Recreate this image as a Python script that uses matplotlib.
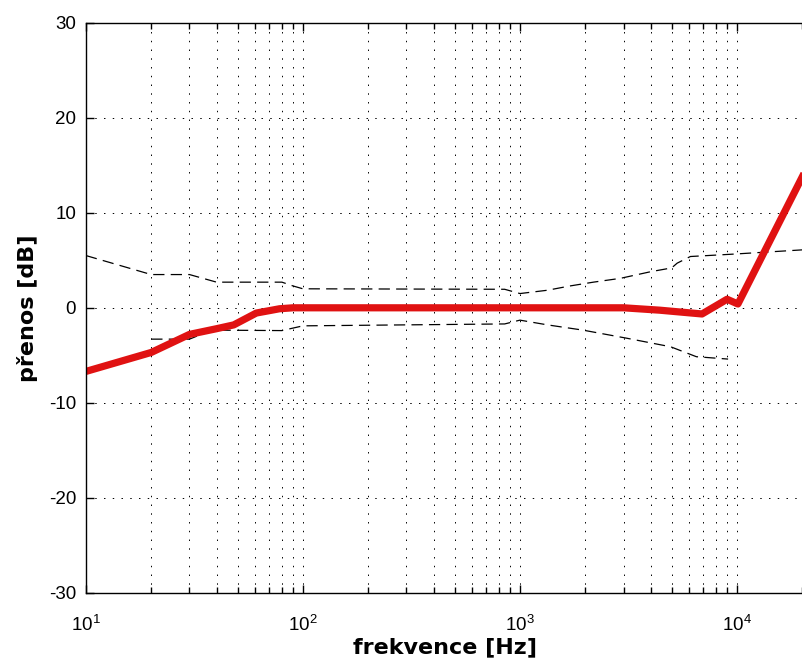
import matplotlib
matplotlib.use("Agg")
import matplotlib.pyplot as plt
from matplotlib.ticker import FixedLocator, LogLocator, NullFormatter

plt.rcParams['font.family'] = ['Liberation Sans', 'DejaVu Sans']

# measured response (red)
red_f = [10, 20, 30, 40, 48, 61, 70, 78, 90, 100, 1000, 3000, 4400, 6900, 9000, 10100, 20000]
red_db = [-6.7, -4.7, -2.8, -2.2, -1.8, -0.55, -0.3, -0.1, 0, 0, 0, 0, -0.25, -0.65, 0.9, 0.4, 13.8]

# tolerance band, upper
up_f = [10, 20, 30, 40, 80, 90, 100, 850, 1000, 1340, 1700, 2180, 2900, 4000, 5000, 5300, 6100, 9600, 20000]
up_db = [5.5, 3.5, 3.5, 2.7, 2.7, 2.3, 2.0, 1.95, 1.5, 1.85, 2.3, 2.7, 3.1, 3.8, 4.2, 4.7, 5.4, 5.65, 6.1]

# tolerance band, lower
lo_f = [20, 30, 38, 80, 100, 850, 1000, 1340, 1950, 3100, 4940, 6500, 9100]
lo_db = [-3.3, -3.3, -2.35, -2.4, -1.9, -1.7, -1.3, -1.8, -2.35, -3.2, -4.1, -5.15, -5.4]

xticks = [10, 100, 1000, 10000]
xticklabels = [r'$\mathregular{10^{%d}}$' % i for i in range(1, 5)]
yticks = [-30, -20, -10, 0, 10, 20, 30]

fig = plt.figure(figsize=(8.03, 6.63), dpi=100)
ax = fig.add_axes([0.107, 0.106, 0.8935, 0.8595])

ax.set_xscale('log')
ax.set_xlim(10, 20230)
ax.set_ylim(-30, 30)

grid_style = dict(color='black', linewidth=0.7, linestyle=(0, (1.5, 7.5)))
ax.grid(True, which='major', axis='both', **grid_style)
ax.grid(True, which='minor', axis='x', **grid_style)
ax.set_axisbelow(True)

ax.plot(up_f, up_db, color='black', linewidth=0.9, linestyle=(0, (9, 5)))
ax.plot(lo_f, lo_db, color='black', linewidth=0.9, linestyle=(0, (9, 5)))
ax.plot(red_f, red_db, color='#e01212', linewidth=5.2, solid_joinstyle='round')

ax.xaxis.set_major_locator(FixedLocator(xticks))
ax.set_xticklabels(xticklabels)
ax.xaxis.set_minor_locator(LogLocator(base=10, subs=range(2, 10), numticks=20))
ax.xaxis.set_minor_formatter(NullFormatter())
ax.set_yticks(yticks)
ax.set_yticklabels([str(v) for v in yticks])

ax.tick_params(which='both', direction='in', top=True, right=False, labelsize=13.5, width=1)
ax.tick_params(which='major', length=6)
ax.tick_params(which='minor', length=4)
ax.tick_params(axis='x', pad=16)
ax.tick_params(axis='y', pad=7)
ax.spines['right'].set_visible(False)
for s in ['left', 'bottom', 'top']:
    ax.spines[s].set_linewidth(1)

label_font = dict(family='DejaVu Sans', fontsize=16, fontweight='bold')
ax.set_xlabel('frekvence [Hz]', **label_font)
ax.set_ylabel('přenos [dB]', **label_font)
ax.xaxis.set_label_coords(0.5, -0.079)
ax.yaxis.set_label_coords(-0.067, 0.5)

fig.savefig('out.png', dpi=100)
